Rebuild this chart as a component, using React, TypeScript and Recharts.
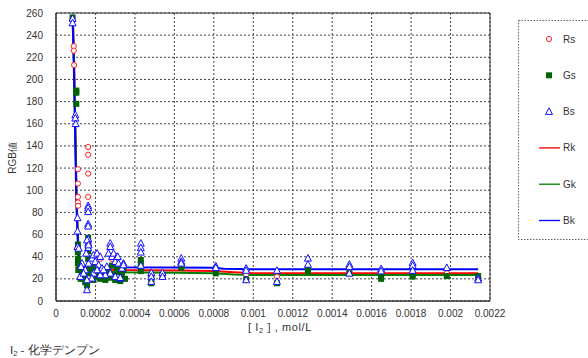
import React from "react";
import {
  ComposedChart,
  Scatter,
  Line,
  XAxis,
  YAxis,
  CartesianGrid,
  ReferenceArea,
} from "recharts";

// Measured R, G, B values against iodine concentration (mol/L)
const rsPoints = [
  { x: 0.000084, y: 255 }, { x: 0.00009, y: 230 }, { x: 0.00009, y: 226 },
  { x: 0.000092, y: 213 }, { x: 0.000111, y: 119 }, { x: 0.000111, y: 106 },
  { x: 0.000111, y: 94 }, { x: 0.000111, y: 89 }, { x: 0.000112, y: 86 },
  { x: 0.000163, y: 139 }, { x: 0.000163, y: 132 }, { x: 0.000163, y: 115 },
  { x: 0.000163, y: 94 }, { x: 0.000165, y: 52 }, { x: 0.00019, y: 41 },
  { x: 0.000208, y: 42 }, { x: 0.000224, y: 38 }, { x: 0.000258, y: 30 },
  { x: 0.000284, y: 38 }, { x: 0.0003, y: 33 }, { x: 0.000334, y: 28 },
  { x: 0.00043, y: 35 }, { x: 0.00043, y: 30 }, { x: 0.000483, y: 22 },
  { x: 0.00054, y: 23 }, { x: 0.000635, y: 30 }, { x: 0.00081, y: 28 },
  { x: 0.000964, y: 24 }, { x: 0.00112, y: 22 }, { x: 0.001277, y: 30 },
  { x: 0.001487, y: 27 }, { x: 0.001648, y: 24 }, { x: 0.001808, y: 26 },
  { x: 0.001981, y: 25 }, { x: 0.00214, y: 21 },
];

const gsPoints = [
  { x: 0.000084, y: 256 }, { x: 0.000103, y: 190 }, { x: 0.000103, y: 188 },
  { x: 0.000103, y: 178 }, { x: 0.000111, y: 51 }, { x: 0.000111, y: 47 },
  { x: 0.000111, y: 44 }, { x: 0.000111, y: 38 }, { x: 0.000111, y: 34 },
  { x: 0.000113, y: 28 }, { x: 0.000118, y: 31 }, { x: 0.000163, y: 57 },
  { x: 0.000163, y: 52 }, { x: 0.000163, y: 45 }, { x: 0.000163, y: 38 },
  { x: 0.000125, y: 20 }, { x: 0.00013, y: 26 }, { x: 0.00014, y: 22 },
  { x: 0.000148, y: 17 }, { x: 0.000157, y: 14 }, { x: 0.000165, y: 25 },
  { x: 0.00017, y: 31 }, { x: 0.000182, y: 30 }, { x: 0.00019, y: 19 },
  { x: 0.000199, y: 28 }, { x: 0.000208, y: 22 }, { x: 0.000216, y: 27 },
  { x: 0.000224, y: 20 }, { x: 0.000233, y: 24 }, { x: 0.000241, y: 22 },
  { x: 0.00025, y: 19 }, { x: 0.000258, y: 26 }, { x: 0.000266, y: 30 },
  { x: 0.000275, y: 21 }, { x: 0.000284, y: 32 }, { x: 0.000292, y: 24 },
  { x: 0.0003, y: 19 }, { x: 0.000309, y: 30 }, { x: 0.000317, y: 26 },
  { x: 0.000326, y: 18 }, { x: 0.000334, y: 24 }, { x: 0.000342, y: 28 },
  { x: 0.00035, y: 20 },
  { x: 0.00043, y: 37 }, { x: 0.00043, y: 33 }, { x: 0.00043, y: 27 },
  { x: 0.000483, y: 16 }, { x: 0.000483, y: 20 }, { x: 0.00054, y: 23.5 },
  { x: 0.000635, y: 30 }, { x: 0.000635, y: 32 }, { x: 0.00081, y: 25 },
  { x: 0.000964, y: 19.5 }, { x: 0.00112, y: 16 }, { x: 0.001277, y: 27 },
  { x: 0.001277, y: 29 }, { x: 0.001487, y: 25 }, { x: 0.001648, y: 22.5 },
  { x: 0.001648, y: 20 }, { x: 0.001808, y: 22 }, { x: 0.001808, y: 24 },
  { x: 0.001981, y: 22.5 }, { x: 0.00214, y: 22.5 },
];

const bsPoints = [
  { x: 0.000084, y: 255 }, { x: 0.000084, y: 251 }, { x: 0.000098, y: 168 },
  { x: 0.000098, y: 165 }, { x: 0.0001, y: 160 }, { x: 0.000109, y: 75 },
  { x: 0.000109, y: 63 }, { x: 0.000109, y: 49 }, { x: 0.000115, y: 47.5 },
  { x: 0.000163, y: 86 }, { x: 0.000163, y: 84 }, { x: 0.000163, y: 80.5 },
  { x: 0.000163, y: 69.5 }, { x: 0.000163, y: 67.5 }, { x: 0.000163, y: 56 },
  { x: 0.000163, y: 52 }, { x: 0.000163, y: 48 },
  { x: 0.000157, y: 55 }, { x: 0.000165, y: 50.5 }, { x: 0.000153, y: 43 },
  { x: 0.000132, y: 34 }, { x: 0.000127, y: 31 }, { x: 0.000148, y: 28 },
  { x: 0.000165, y: 34 }, { x: 0.000182, y: 38.5 }, { x: 0.00019, y: 41.5 },
  { x: 0.000208, y: 43 }, { x: 0.000224, y: 40 }, { x: 0.000199, y: 35.5 },
  { x: 0.000216, y: 32.5 }, { x: 0.000233, y: 29.5 }, { x: 0.000258, y: 31 },
  { x: 0.000275, y: 52 }, { x: 0.000275, y: 49 }, { x: 0.000266, y: 43 },
  { x: 0.000284, y: 40 }, { x: 0.000292, y: 43 }, { x: 0.000309, y: 40 },
  { x: 0.0003, y: 35.5 }, { x: 0.000317, y: 34 }, { x: 0.000342, y: 34 },
  { x: 0.000334, y: 29.5 }, { x: 0.000326, y: 20.5 }, { x: 0.0003, y: 22 },
  { x: 0.000275, y: 25 }, { x: 0.00025, y: 23.5 }, { x: 0.000224, y: 23.5 },
  { x: 0.00019, y: 25 }, { x: 0.000182, y: 20.5 }, { x: 0.000157, y: 19 },
  { x: 0.000157, y: 10 }, { x: 0.000123, y: 22 }, { x: 0.00014, y: 25 },
  { x: 0.000208, y: 28 }, { x: 0.000241, y: 28 }, { x: 0.000313, y: 40 },
  { x: 0.000326, y: 21 }, { x: 0.000342, y: 32.5 },
  { x: 0.00043, y: 52 }, { x: 0.00043, y: 48 }, { x: 0.00043, y: 44 },
  { x: 0.00043, y: 32 }, { x: 0.000483, y: 25.5 }, { x: 0.000483, y: 22 },
  { x: 0.000483, y: 17.5 }, { x: 0.00054, y: 25.5 }, { x: 0.00054, y: 22 },
  { x: 0.000635, y: 38.5 }, { x: 0.000635, y: 35.5 }, { x: 0.000635, y: 34 },
  { x: 0.00081, y: 31.5 }, { x: 0.00081, y: 30 }, { x: 0.000964, y: 29.5 },
  { x: 0.000964, y: 27.5 }, { x: 0.000964, y: 19 }, { x: 0.00112, y: 27.5 },
  { x: 0.00112, y: 17.5 }, { x: 0.001277, y: 38.5 }, { x: 0.001277, y: 33 },
  { x: 0.001487, y: 33 }, { x: 0.001487, y: 31 }, { x: 0.001487, y: 25 },
  { x: 0.001648, y: 29 }, { x: 0.001648, y: 27 }, { x: 0.001808, y: 34.5 },
  { x: 0.001808, y: 32 }, { x: 0.001808, y: 27.5 }, { x: 0.001981, y: 30 },
  { x: 0.00214, y: 20.5 }, { x: 0.00214, y: 19 },
];

// Fitted curves
const rkPoints = [
  { x: 0.000086, y: 255 }, { x: 0.000092, y: 215 }, { x: 0.000098, y: 160 },
  { x: 0.000105, y: 91 }, { x: 0.00011, y: 64 }, { x: 0.000116, y: 40 },
  { x: 0.000125, y: 30 }, { x: 0.0003, y: 28 }, { x: 0.0006, y: 27.5 },
  { x: 0.0008, y: 27 }, { x: 0.0009, y: 26 }, { x: 0.001, y: 25 },
  { x: 0.00214, y: 25 },
];
const gkPoints = [
  { x: 0.000085, y: 255 }, { x: 0.000091, y: 215 }, { x: 0.000097, y: 160 },
  { x: 0.000104, y: 91 }, { x: 0.000109, y: 64 }, { x: 0.000115, y: 40 },
  { x: 0.000125, y: 28 }, { x: 0.0003, y: 26 }, { x: 0.0006, y: 25.5 },
  { x: 0.0008, y: 25 }, { x: 0.0009, y: 24 }, { x: 0.001, y: 23.5 },
  { x: 0.00214, y: 23.5 },
];
const bkPoints = [
  { x: 0.000084, y: 255 }, { x: 0.00009, y: 215 }, { x: 0.000096, y: 160 },
  { x: 0.000103, y: 91 }, { x: 0.000108, y: 64 }, { x: 0.000114, y: 40 },
  { x: 0.00012, y: 32 }, { x: 0.00015, y: 30.5 }, { x: 0.0006, y: 30.3 },
  { x: 0.0008, y: 30 }, { x: 0.00085, y: 29.2 }, { x: 0.001, y: 28.6 },
  { x: 0.00214, y: 28.6 },
];

const xTickValues = [0, 0.0002, 0.0004, 0.0006, 0.0008, 0.001, 0.0012, 0.0014, 0.0016, 0.0018, 0.002, 0.0022];
const xTickLabels = ["0", "0.0002", "0.0004", "0.0006", "0.0008", "0.001", "0.0012", "0.0014", "0.0016", "0.0018", "0.002", "0.0022"];
const yTickValues = [0, 20, 40, 60, 80, 100, 120, 140, 160, 180, 200, 220, 240, 260];

const legendItems = [
  { name: "Rs", kind: "circle" },
  { name: "Gs", kind: "square" },
  { name: "Bs", kind: "triangle" },
  { name: "Rk", kind: "line", color: "#ff0000" },
  { name: "Gk", kind: "line", color: "#008000" },
  { name: "Bk", kind: "line", color: "#0000ff" },
];

const FONT = "'Liberation Sans', Arial, sans-serif";
const TEXT = "#333";

const CircleMark = (p: any) => (
  <circle cx={p.cx} cy={p.cy} r={2.6} fill="#fff" stroke="#ff2020" strokeWidth={1} />
);
const SquareMark = (p: any) => (
  <rect x={p.cx - 3} y={p.cy - 3} width={6} height={6} fill="#006400" />
);
const TriangleMark = (p: any) => (
  <polygon
    points={`${p.cx},${p.cy - 3.8} ${p.cx - 3.5},${p.cy + 2.8} ${p.cx + 3.5},${p.cy + 2.8}`}
    fill="#fff"
    stroke="#1010ff"
    strokeWidth={1}
  />
);

function Legend() {
  return (
    <svg
      width={588}
      height={358}
      style={{ position: "absolute", left: 0, top: 0, pointerEvents: "none" }}
    >
      <rect x={518.5} y={20.5} width={80} height={219} fill="#fff" stroke="#666" strokeDasharray="1.5 1.5" />
      {legendItems.map((it, i) => {
        const cy = 39 + i * 36.3;
        return (
          <g key={it.name}>
            {it.kind === "circle" && <CircleMark cx={549} cy={cy} />}
            {it.kind === "square" && <SquareMark cx={549} cy={cy} />}
            {it.kind === "triangle" && <TriangleMark cx={549} cy={cy} />}
            {it.kind === "line" && (
              <line x1={539} x2={560} y1={cy} y2={cy} stroke={it.color} strokeWidth={1.3} />
            )}
            <text x={563} y={cy + 3.5} fontSize={10} fontFamily={FONT} fill={TEXT}>
              {it.name}
            </text>
          </g>
        );
      })}
    </svg>
  );
}

export default function App() {
  return (
    <div style={{ position: "absolute", left: 0, top: 0, width: 588, height: 358, background: "#fff" }}>
      <ComposedChart
        width={588}
        height={358}
        margin={{ top: 13, right: 98, bottom: 27, left: 0 }}
      >
        <CartesianGrid stroke="#444" strokeDasharray="2 2" />
        <XAxis
          type="number"
          dataKey="x"
          domain={[0, 0.0022]}
          ticks={xTickValues}
          interval={0}
          allowDataOverflow
          tickFormatter={(v: number) => xTickLabels[Math.round(v / 0.0002)]}
          tickLine={false}
          tickSize={0}
          tickMargin={9}
          axisLine={{ stroke: "#333" }}
          tick={{ fontSize: 10, fill: TEXT, fontFamily: FONT }}
          height={30}
        />
        <YAxis
          type="number"
          dataKey="y"
          domain={[0, 260]}
          ticks={yTickValues}
          interval={0}
          allowDataOverflow
          tickLine={false}
          tickSize={0}
          tickMargin={13}
          axisLine={{ stroke: "#333" }}
          tick={{ fontSize: 10, fill: TEXT, fontFamily: FONT }}
          width={56}
        />
        <ReferenceArea x1={0} x2={0.0022} y1={0} y2={260} fill="none" stroke="#333" strokeWidth={1} />
        <Scatter data={rsPoints} shape={CircleMark} isAnimationActive={false} />
        <Scatter data={gsPoints} shape={SquareMark} isAnimationActive={false} />
        <Scatter data={bsPoints} shape={TriangleMark} isAnimationActive={false} />
        <Line data={rkPoints} dataKey="y" type="linear" stroke="#ff0000" strokeWidth={2} dot={false} isAnimationActive={false} />
        <Line data={gkPoints} dataKey="y" type="linear" stroke="#008000" strokeWidth={2} dot={false} isAnimationActive={false} />
        <Line data={bkPoints} dataKey="y" type="linear" stroke="#0000ff" strokeWidth={2} dot={false} isAnimationActive={false} />
        <text x={12} y={158} fontSize={10} fontFamily={FONT} fill={TEXT} textAnchor="middle" transform="rotate(-90 12 158)" dy={4}>
          RGB値
        </text>
        <text x={280} y={331} fontSize={11} fontFamily={FONT} fill={TEXT} textAnchor="middle" letterSpacing={0.6} style={{ whiteSpace: "pre" }}>
          {"[ I"}<tspan fontSize={7.5} dy={2}>2</tspan><tspan dy={-2}>{" ] , mol/L"}</tspan>
        </text>
        <text x={10} y={354} fontSize={11.5} fontFamily={FONT} fill={TEXT}>
          I<tspan fontSize={7.5} dy={2}>2</tspan><tspan dy={-2}> - 化学デンプン</tspan>
        </text>
      </ComposedChart>
      <Legend />
    </div>
  );
}
